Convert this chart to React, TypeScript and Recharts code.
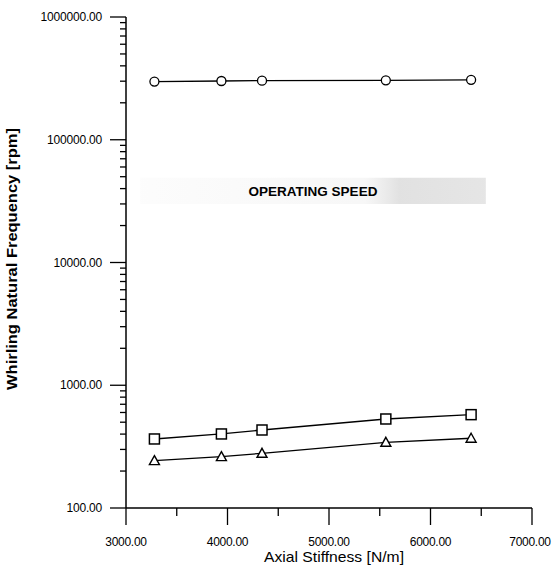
import { LineChart, Line, XAxis, YAxis, ReferenceArea } from "recharts";

const stiffness = [3280, 3940, 4340, 5560, 6400];
const circleFreq = [298000, 301000, 303000, 305000, 308000];
const squareFreq = [365, 401, 432, 531, 576];
const triangleFreq = [243, 262, 279, 343, 370];

const yDecades = [100, 1000, 10000, 100000, 1000000];
const yMinorSteps = [2, 3, 4, 5, 6, 7, 8, 9];
const yTicks = [
  ...yDecades,
  ...yDecades.slice(0, -1).flatMap((d) => yMinorSteps.map((m) => d * m)),
].sort((a, b) => a - b);
const xMajor = [3000, 4000, 5000, 6000, 7000];
const xTicks = [3000, 3500, 4000, 4500, 5000, 5500, 6000, 6500, 7000];

const bandLow = 30000;
const bandHigh = 49000;
const bandStart = 3140;
const bandEnd = 6545;

const rows = stiffness.map((k, i) => ({
  k,
  circle: circleFreq[i],
  square: squareFreq[i],
  triangle: triangleFreq[i],
}));

const font = "'Liberation Sans', Arial, sans-serif";

function YTick({ x, y, payload }: any) {
  const major = yDecades.includes(payload.value);
  return (
    <g>
      <line x1={x - (major ? 16 : 6)} x2={x} y1={y} y2={y} stroke="#000" strokeWidth={1.3} />
      {major && (
        <text x={x - 24} y={y} dy={4} textAnchor="end" fontSize={12} letterSpacing={-0.2} fontFamily={font} fill="#000">
          {payload.value.toFixed(2)}
        </text>
      )}
    </g>
  );
}

function XTick({ x, y, payload }: any) {
  const major = xMajor.includes(payload.value);
  // the last label sits a touch left of its tick, as in the original
  const shift = payload.value === 7000 ? -2 : 0;
  return (
    <g>
      <line x1={x} x2={x} y1={y} y2={y + (major ? 17 : 8)} stroke="#000" strokeWidth={1.3} />
      {major && (
        <text x={x + shift} y={y + 38} textAnchor="middle" fontSize={12} letterSpacing={-0.3} fontFamily={font} fill="#000">
          {payload.value.toFixed(2)}
        </text>
      )}
    </g>
  );
}

const CircleDot = ({ cx, cy, index }: any) => (
  <circle key={`c${index}`} cx={cx} cy={cy} r={4.5} fill="#fff" stroke="#000" strokeWidth={1.3} />
);
const SquareDot = ({ cx, cy, index }: any) => (
  <rect key={`s${index}`} x={cx - 5} y={cy - 5} width={10} height={10} fill="#fff" stroke="#000" strokeWidth={1.5} />
);
const TriangleDot = ({ cx, cy, index }: any) => (
  <path key={`t${index}`} d={`M${cx},${cy - 5} L${cx + 5},${cy + 4} L${cx - 5},${cy + 4} Z`} fill="#fff" stroke="#000" strokeWidth={1.4} />
);

export default function App() {
  return (
    <div style={{ position: "absolute", left: 0, top: 0, width: 552, height: 567 }}>
      <LineChart width={552} height={567} data={rows} margin={{ top: 17, right: 20, left: 0, bottom: 0 }}>
        <defs>
          <linearGradient id="band" x1="0" y1="0" x2="1" y2="0">
            <stop offset="0%" stopColor="#bbb" stopOpacity={0.04} />
            <stop offset="65%" stopColor="#bbb" stopOpacity={0.12} />
            <stop offset="75%" stopColor="#aaa" stopOpacity={0.35} />
            <stop offset="100%" stopColor="#aaa" stopOpacity={0.3} />
          </linearGradient>
        </defs>
        <XAxis
          dataKey="k"
          type="number"
          domain={[3000, 7000]}
          ticks={xTicks}
          interval={0}
          tickSize={0}
          tickMargin={0}
          tick={<XTick />}
          height={59}
          axisLine={{ stroke: "#000", strokeWidth: 1.5 }}
          label={() => (
            <text x={334} y={562} textAnchor="middle" fontSize={15} textLength={140} lengthAdjust="spacingAndGlyphs" fontFamily={font} fill="#000">
              Axial Stiffness [N/m]
            </text>
          )}
        />
        <YAxis
          type="number"
          scale="log"
          domain={[100, 1000000]}
          allowDataOverflow
          ticks={yTicks}
          interval={0}
          tickSize={0}
          tickMargin={0}
          tick={<YTick />}
          width={126}
          axisLine={{ stroke: "#000", strokeWidth: 1.5 }}
          label={() => (
            <text
              x={17}
              y={259}
              transform="rotate(-90, 17, 259)"
              textAnchor="middle"
              fontSize={14.5}
              fontWeight="bold"
              textLength={262}
              lengthAdjust="spacingAndGlyphs"
              fontFamily={font}
              fill="#000"
            >
              Whirling Natural Frequency [rpm]
            </text>
          )}
        />
        <ReferenceArea
          x1={bandStart}
          x2={bandEnd}
          y1={bandLow}
          y2={bandHigh}
          fill="url(#band)"
          fillOpacity={1}
          stroke="none"
          label={{ value: "OPERATING SPEED", position: "center", fontSize: 13.5, fontWeight: "bold", fontFamily: font, fill: "#000" }}
        />
        <Line dataKey="circle" stroke="#000" strokeWidth={1.3} dot={CircleDot} isAnimationActive={false} />
        <Line dataKey="square" stroke="#000" strokeWidth={1.3} dot={SquareDot} isAnimationActive={false} />
        <Line dataKey="triangle" stroke="#000" strokeWidth={1.3} dot={TriangleDot} isAnimationActive={false} />
      </LineChart>
    </div>
  );
}
